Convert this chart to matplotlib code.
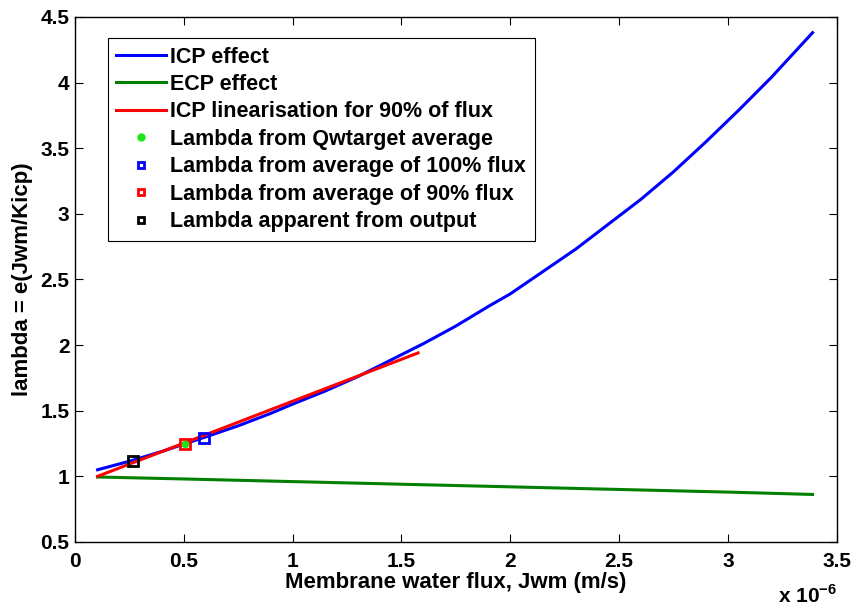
import matplotlib
matplotlib.use("Agg")
import matplotlib.pyplot as plt
from matplotlib.lines import Line2D

plt.rcParams['font.family'] = ['Liberation Sans', 'DejaVu Sans']
plt.rcParams['font.weight'] = 'bold'
plt.rcParams['mathtext.fontset'] = 'custom'
plt.rcParams['mathtext.rm'] = 'Liberation Sans:bold'
plt.rcParams['mathtext.bf'] = 'Liberation Sans:bold'

# Data (x in units of 1e-6 m/s)
icp_x = [0.104, 0.25, 0.4, 0.5, 0.6, 0.75, 0.9, 1.0, 1.15, 1.3, 1.45, 1.6, 1.75,
         1.9, 2.0, 2.15, 2.3, 2.45, 2.6, 2.75, 2.9, 3.05, 3.2, 3.3, 3.389]
icp_y = [1.05, 1.115, 1.19, 1.245, 1.30, 1.385, 1.48, 1.55, 1.65, 1.76, 1.885, 2.01, 2.145,
         2.295, 2.39, 2.56, 2.73, 2.92, 3.11, 3.32, 3.55, 3.79, 4.04, 4.22, 4.38]
ecp_x = [0.104, 0.5, 1.0, 1.5, 2.0, 2.5, 3.0, 3.389]
ecp_y = [0.995, 0.98, 0.96, 0.94, 0.92, 0.90, 0.88, 0.862]
lin_x = [0.104, 1.576]
lin_y = [1.0, 1.94]
qw_pt = (0.505, 1.247)
avg100_pt = (0.594, 1.295)
avg90_pt = (0.505, 1.247)
app_pt = (0.265, 1.12)
xticks = [0, 0.5, 1, 1.5, 2, 2.5, 3, 3.5]
xticklabels = ['0', '0.5', '1', '1.5', '2', '2.5', '3', '3.5']
yticks = [0.5, 1, 1.5, 2, 2.5, 3, 3.5, 4, 4.5]
yticklabels = ['0.5', '1', '1.5', '2', '2.5', '3', '3.5', '4', '4.5']

BLUE = (0, 0, 1)
DGREEN = (0, 0.5, 0)
RED = (1, 0, 0)
LGREEN = (0.1, 0.9, 0.1)

fig = plt.figure(figsize=(8.54, 6.08), dpi=100)
ax = fig.add_axes([0.0878, 0.1086, 0.892, 0.8636])

ax.plot(icp_x, icp_y, color=BLUE, lw=2.2)
ax.plot(ecp_x, ecp_y, color=DGREEN, lw=2.2)
ax.plot(lin_x, lin_y, color=RED, lw=2.2)
ax.plot([avg90_pt[0]], [avg90_pt[1]], ls='none', marker='s', ms=7, mfc='none',
        mec=RED, mew=2, zorder=5)
ax.plot([qw_pt[0]], [qw_pt[1]], ls='none', marker='o', ms=4.5, color=LGREEN, zorder=6)
ax.plot([avg100_pt[0]], [avg100_pt[1]], ls='none', marker='s', ms=7, mfc='none',
        mec=BLUE, mew=2, zorder=5)
ax.plot([app_pt[0]], [app_pt[1]], ls='none', marker='s', ms=7, mfc='none',
        mec='black', mew=2, zorder=5)

ax.set_xlim(0, 3.5)
ax.set_ylim(0.5, 4.5)
ax.set_xticks(xticks)
ax.set_xticklabels(xticklabels)
ax.set_yticks(yticks)
ax.set_yticklabels(yticklabels)
ax.tick_params(direction='in', top=True, right=True, length=6, width=0.8,
               labelsize=15)
ax.tick_params(axis='x', pad=7)
ax.tick_params(axis='y', pad=4)
for s in ax.spines.values():
    s.set_linewidth(1.0)

ax.set_xlabel('Membrane water flux, Jwm (m/s)', fontsize=16, fontweight='bold', labelpad=1)
ax.set_ylabel('lambda = e(Jwm/Kicp)', fontsize=16, fontweight='bold', labelpad=5)
ax.text(1.0, -0.116, r'x 10$^{-6}$', transform=ax.transAxes, ha='right', va='baseline',
        fontsize=15, fontweight='bold')

handles = [
    Line2D([], [], color=BLUE, lw=2.2),
    Line2D([], [], color=DGREEN, lw=2.2),
    Line2D([], [], color=RED, lw=2.2),
    Line2D([], [], ls='none', marker='o', ms=5, color=LGREEN),
    Line2D([], [], ls='none', marker='s', ms=5, mfc='none', mec=BLUE, mew=2),
    Line2D([], [], ls='none', marker='s', ms=5, mfc='none', mec=RED, mew=2),
    Line2D([], [], ls='none', marker='s', ms=5, mfc='none', mec='black', mew=2),
]
labels = ['ICP effect', 'ECP effect', 'ICP linearisation for 90% of flux',
          'Lambda from Qwtarget average', 'Lambda from average of 100% flux',
          'Lambda from average of 90% flux', 'Lambda apparent from output']
leg = ax.legend(handles, labels, loc='upper left', bbox_to_anchor=(0.043, 0.96),
                borderaxespad=0, fancybox=False, edgecolor='black', framealpha=1,
                fontsize=15.5, handlelength=2.3, handletextpad=0.2, labelspacing=0.3,
                borderpad=0.4, numpoints=1)
leg.get_frame().set_linewidth(0.8)
for t in leg.get_texts():
    t.set_fontweight('bold')

fig.savefig('out.png', dpi=100)
